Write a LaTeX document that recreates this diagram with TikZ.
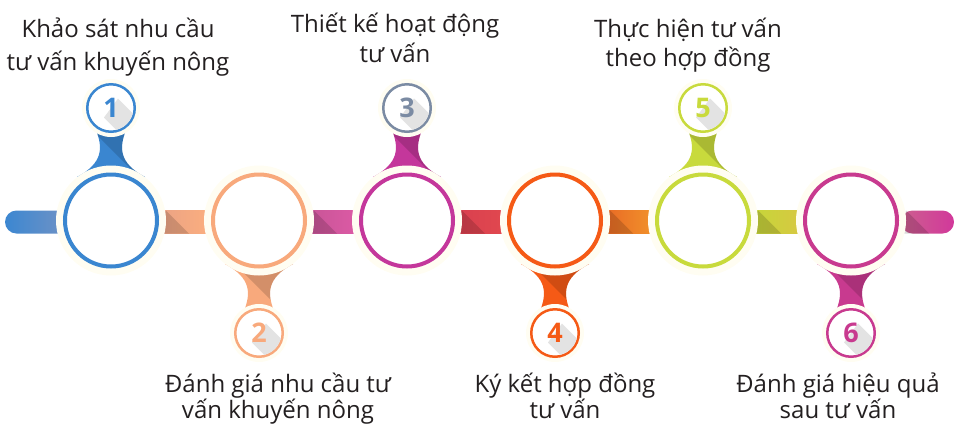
\documentclass[tikz,border=0pt]{standalone}
\usepackage{fontspec}
\setmainfont{Open Sans}
\usepackage{xcolor}
\usepackage{tikz}
\usetikzlibrary{calc}
\definecolor{txt}{HTML}{231F20}
\definecolor{halo}{HTML}{FFFDF2}
\definecolor{cA}{HTML}{3A86D0}
\definecolor{cB}{HTML}{F8A97C}
\definecolor{cC}{HTML}{C4379B}
\definecolor{cCs}{HTML}{7B8BA3}
\definecolor{cD}{HTML}{F55A16}
\definecolor{cE}{HTML}{C8DA3C}
\definecolor{cF}{HTML}{C83A8F}
\definecolor{bA1}{HTML}{3C87D1}
\definecolor{bA2}{HTML}{7393C4}
\definecolor{bB1}{HTML}{EBA384}
\definecolor{bB2}{HTML}{FBAE7F}
\definecolor{bC1}{HTML}{C85597}
\definecolor{bC2}{HTML}{DC5AA5}
\definecolor{bD1}{HTML}{D9404F}
\definecolor{bD2}{HTML}{E1484F}
\definecolor{bE1}{HTML}{E96A25}
\definecolor{bE2}{HTML}{F1922B}
\definecolor{bF1}{HTML}{C6D63A}
\definecolor{bF2}{HTML}{D7C841}
\definecolor{bG1}{HTML}{CC5F8F}
\definecolor{bG2}{HTML}{D2389B}
\tikzset{
  haloDisc/.style={fill=halo},
  bigring/.style={draw=#1, line width=4pt, fill=white},
  smallring/.style={draw=#1, line width=2.5pt, fill=white},
  darkside/.style={fill=black, opacity=.15},
  longshade/.style={fill=black!11},
  stepnum/.style={font=\fontsize{27}{27}\selectfont\bfseries, text=#1, inner sep=0pt},
  steptext/.style={font=\fontsize{24}{#1}\selectfont, text=txt, align=center, inner sep=0pt, anchor=base}}

\begin{document}
\begin{tikzpicture}[x=1pt,y=-1pt]
\useasboundingbox (0,0) rectangle (955,424);
% bars
\shade[rounded corners=11.5pt, left color=bA1, right color=bA2] (5,210.5) rectangle (70,233.5);
\foreach \xa/\xb/\ca/\cb in {161/209/bB1/bB2, 309/357/bC1/bC2, 457/505/bD1/bD2,
                             605/653/bE1/bE2, 753/801/bF1/bF2}{
  \shade[left color=\ca, right color=\cb] (\xa,210.5) rectangle (\xb,233.5);
  \fill[darkside] (\xa+5,210.5) -- (\xa+28,233.5) -- (\xa-5,233.5) -- cycle;
}
\shade[rounded corners=11.5pt, left color=bG1, right color=bG2] (901,210.5) rectangle (954,233.5);
\fill[darkside] (906,210.5) -- (929,233.5) -- (901,233.5) -- cycle;
% stages
\foreach \n/\cx/\sy/\s/\col/\ncol in {1/111/108/1/cA/cA, 2/259/333/-1/cB/cB, 3/407/108/1/cC/cCs,
                                     4/555/333/-1/cD/cD, 5/703/108/1/cE/cE, 6/851/333/-1/cF/cF}{
  \coordinate (C\n) at (\cx,220.5);
  \coordinate (S\n) at (\cx,\sy);
  \coordinate (K\n) at ({\cx-14+2*\s},{\sy-16+45*\s});
  \begin{scope}
    \clip (\cx-15,\sy+\s*22) .. controls (\cx-8,\sy+\s*40) and (\cx-8,\sy+\s*55) .. (\cx-34,\sy+\s*69)
      -- (\cx+34,\sy+\s*69) .. controls (\cx+8,\sy+\s*55) and (\cx+8,\sy+\s*40) .. (\cx+15,\sy+\s*22) -- cycle;
    \fill[\col] (\cx-40,\sy-80) rectangle (\cx+40,\sy+80);
    \fill[darkside] ($(K\n)+(-40,-40)$) -- ($(K\n)+(60,60)$) -- ($(K\n)+(80,60)$) -- ($(K\n)+(80,-40)$) -- cycle;
  \end{scope}
  \fill[haloDisc] (C\n) circle (55);
  \draw[bigring=\col] (C\n) circle (46);
  \fill[haloDisc] (S\n) circle (29);
  \draw[smallring=\ncol] (S\n) circle (23.75);
  \begin{scope}
    \clip (S\n) circle (22.5);
    \fill[longshade] ($(S\n)+(7,-9.5)$) -- ++(40,40) -- ++(-14,19) -- ($(S\n)+(-7,9.5)$) -- cycle;
  \end{scope}
  \node[stepnum=\ncol] (num\n) at (S\n) {\n};
}
\node[steptext=32.7] (t1) at (118,70) {Khảo sát nhu cầu\\tư vấn khuyến nông};
\node[steptext=25.5] (t2) at (278,418) {Đánh giá nhu cầu tư\\vấn khuyến nông};
\node[steptext=30] (t3) at (395,62) {Thiết kế hoạt động\\tư vấn};
\node[steptext=25.5] (t4) at (565,418) {Ký kết hợp đồng\\tư vấn};
\node[steptext=29] (t5) at (688,66) {Thực hiện tư vấn\\theo hợp đồng};
\node[steptext=25.5] (t6) at (838,418) {Đánh giá hiệu quả\\sau tư vấn};
\end{tikzpicture}
\end{document}
